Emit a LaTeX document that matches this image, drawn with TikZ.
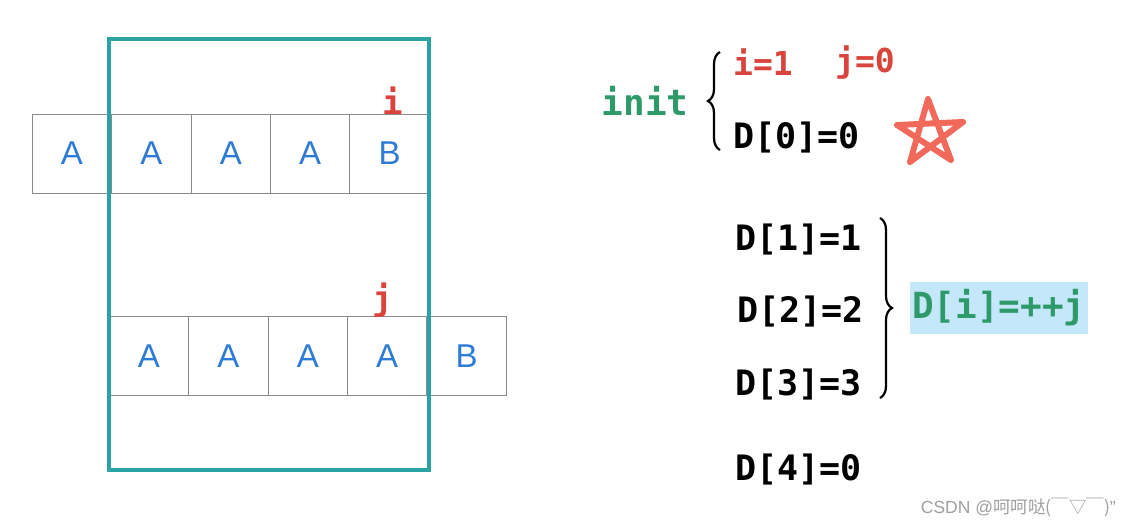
\documentclass[tikz,border=0pt]{standalone}
\usepackage{fontspec}
\usepackage{xcolor}
\usepackage{tikz}
\usetikzlibrary{positioning, decorations.pathreplacing}
\setmainfont{Liberation Sans}
\newfontfamily\hand{DejaVu Sans Mono}
\newfontfamily\cjk{Noto Sans CJK SC}
\definecolor{cellblue}{HTML}{2E7BD6}
\definecolor{ptrred}{HTML}{D9443C}
\definecolor{initgreen}{HTML}{2E9A6A}
\definecolor{winteal}{HTML}{2BA3A3}
\definecolor{starred}{HTML}{F0695A}
\definecolor{hlblue}{HTML}{C4E8FA}
\definecolor{cellgray}{HTML}{8A8A8A}

\begin{document}
\begin{tikzpicture}[
  x=1pt, y=-1pt,
  cell/.style={rectangle, draw=cellgray, line width=0.9pt, outer sep=0pt,
               minimum width=79.4pt, minimum height=79pt, inner sep=0pt,
               text=cellblue, font=\fontsize{33}{36}\selectfont},
  ptr/.style={text=ptrred, inner sep=1pt, font=\hand\bfseries\fontsize{34}{36}\selectfont},
  eq/.style={anchor=west, inner sep=0pt, text=black, font=\hand\bfseries\fontsize{35}{38}\selectfont},
  window/.style={draw=winteal, line width=3.2pt},
  curly/.style={decorate, decoration={brace, amplitude=12pt}, line width=2.2pt},
]
\useasboundingbox (0,0) rectangle (1129,528);

% Pattern row (text)
\node[cell] (a0) at (72,153.5) {A};
\foreach \k/\c [remember=\k as \p (initially 0)] in {1/A,2/A,3/A,4/B}
  \node[cell, right=0pt of a\p] (a\k) {\c};

% Shifted row
\node[cell] (b0) at (149,356) {A};
\foreach \k/\c [remember=\k as \p (initially 0)] in {1/A,2/A,3/A,4/B}
  \node[cell, right=0pt of b\p] (b\k) {\c};

% Window over the compared part
\draw[window] (109,39) rectangle (429,470);

% Pointers
\node[ptr, above=-2pt of a4.north, xshift=3pt] (pi) {i};
\node[ptr, above=-2pt of b3.north, xshift=-4pt] (pj) {j};

% Initialisation
\node[text=initgreen, inner sep=0pt, font=\hand\bfseries\fontsize{36}{38}\selectfont] (init) at (645,101) {init};
\node[eq, text=ptrred, font=\hand\bfseries\fontsize{33}{34}\selectfont] (vi) at (733,62) {i=1};
\node[eq, text=ptrred, font=\hand\bfseries\fontsize{33}{34}\selectfont] (vj) at (835,62) {j=0};
\node[eq] (d0) at (733,138) {D[0]=0};
\coordinate (lb0) at (720,150);
\coordinate (lb1) at (720,52);
\draw[curly] (lb0) -- (lb1);

% Star
\draw[starred, line width=6pt, line join=round, line cap=round]
  (928,99) -- (910,162) -- (963,122) -- (897,125) -- (951,160) -- cycle;

% Table values
\node[eq] (d1) at (735,240) {D[1]=1};
\node[eq] (d2) at (737,312) {D[2]=2};
\node[eq] (d3) at (735,385) {D[3]=3};
\node[eq] (d4) at (735,470) {D[4]=0};
\coordinate (rb0) at (880,218);
\coordinate (rb1) at (880,398);
\draw[curly] (rb0) -- (rb1);

% Rule
\node[eq, text=initgreen, fill=hlblue, inner xsep=2pt, minimum height=52pt,
      font=\hand\bfseries\fontsize{36}{38}\selectfont] (rule) at (910,308) {D[i]=++j};

% Watermark
\node[anchor=east, inner sep=0pt, text=gray!75, font=\fontsize{17.5}{19}\selectfont] (mark) at (1116,508) {CSDN @{\cjk 呵呵哒(￣▽￣)}"};
\end{tikzpicture}
\end{document}
